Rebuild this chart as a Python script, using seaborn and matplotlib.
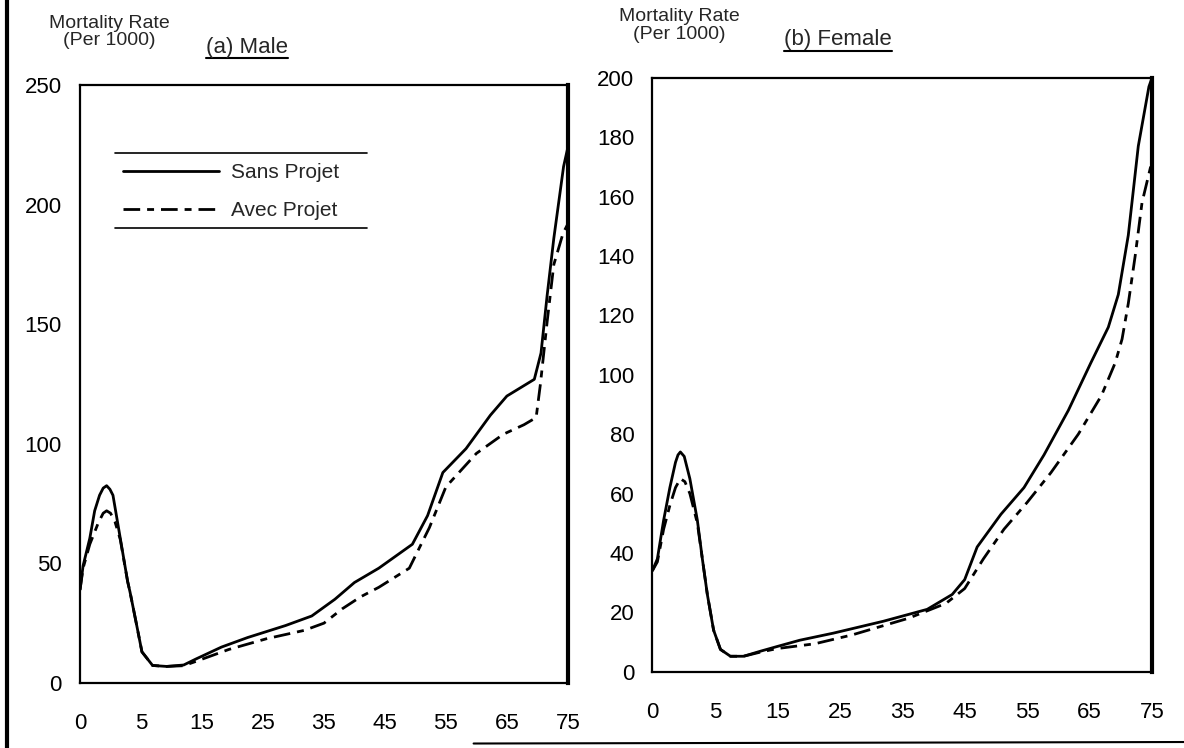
import numpy as np
import pandas as pd
import matplotlib
matplotlib.use('Agg')
import matplotlib.pyplot as plt
from matplotlib.lines import Line2D
import seaborn as sns

# x axis: age groups shown at even spacing
age_ticks = [0, 5, 15, 25, 35, 45, 55, 65, 75]
tick_labels = [str(a) for a in age_ticks]

# Male (per 1000)
male_sans_age = [0, 0.25, 0.8, 1.2, 1.6, 1.9, 2.18, 2.45, 2.7, 3.3, 3.9, 4.1, 4.65, 5.15, 6.9, 9.2,
                 12, 14, 18.2, 22.5, 28.7, 33, 36.8, 40, 44, 49.5, 52, 54.5, 58.3, 62.3, 65,
                 69.5, 70.6, 71.6, 72.7, 74.3, 75]
male_sans = [39, 49, 60.5, 72, 78.5, 81.5, 82.5, 81, 78.5, 60.5, 42.5, 38, 24, 13, 7.3, 6.9,
             7.5, 10, 15, 19, 24, 28, 35, 42, 48, 58, 70, 88, 98, 112, 120,
             127, 138, 162, 186, 216, 224]
male_avec_age = [0, 0.25, 0.8, 1.5, 1.9, 2.18, 2.5, 2.86, 3.3, 3.9, 4.1, 4.65, 5.15, 6.9, 9.2,
                 12, 14, 19.4, 25.6, 31.8, 35, 38, 41, 44, 49, 52.3, 55, 60, 64.4, 67.8,
                 69.8, 70.5, 71.6, 72.7, 74.2, 75]
male_avec = [39, 48, 58, 67, 71, 72, 71, 67.5, 60, 42.5, 38, 24, 13, 7.3, 6.9,
             7.2, 9, 14, 18.5, 22, 25, 31, 36, 40, 48, 65, 82, 96, 104, 108,
             111, 125, 151, 175, 188, 192]

# Female (per 1000)
female_sans_age = [0, 0.4, 0.9, 1.4, 1.85, 2.05, 2.24, 2.55, 3.0, 3.6, 4.0, 4.4, 4.9, 5.9, 7.5,
                   9.6, 12.3, 15, 18.6, 24, 32, 39, 43, 45, 47, 50.8, 54.5, 57.7, 61.6, 65.2,
                   68, 69.6, 71.2, 72.8, 74.5, 75]
female_sans = [34, 38, 51, 62, 70.5, 73, 74, 72.5, 65, 51, 38, 26, 14, 7.5, 5.2,
               5.2, 6.9, 8.5, 10.6, 13, 17, 21, 26, 31, 42, 53, 62, 73, 88, 104,
               116, 127, 147, 177, 197, 200]
female_avec_age = [0, 0.4, 0.9, 1.4, 1.85, 2.24, 2.6, 3.0, 3.6, 4.0, 4.4, 4.9, 5.9, 7.5, 9.6,
                   12.3, 15, 21, 27, 36, 42, 45, 48, 51.3, 55, 58.8, 63.2, 66.9, 69.1, 70.2,
                   71.2, 72.3, 73.4, 75]
female_avec = [34, 37, 48, 56, 62, 65, 64, 60, 50, 38, 26, 14, 7.5, 5.2, 5.2,
               6.6, 7.8, 9.4, 12.4, 18, 23, 28, 38, 48, 57, 67, 80, 93, 104, 112,
               124, 140, 158, 172]

male_yticks = [0, 50, 100, 150, 200, 250]
female_yticks = [0, 20, 40, 60, 80, 100, 120, 140, 160, 180, 200]

sns.set_style('white')
plt.rcParams['font.family'] = ['Liberation Sans', 'DejaVu Sans']

pos = np.arange(len(age_ticks))
fwd = lambda a: np.interp(a, age_ticks, pos)
inv = lambda p: np.interp(p, pos, age_ticks)

fig = plt.figure(figsize=(11.84, 7.48), dpi=100)
ax1 = fig.add_axes([0.0676, 0.087, 0.412, 0.799])
ax2 = fig.add_axes([0.551, 0.102, 0.422, 0.794])

solid_kw = dict(color='black', lw=2.0)
dash_kw = dict(color='black', lw=2.0, linestyle=(0, (6, 2.5, 2.5, 2.5)))

sns.lineplot(x=male_sans_age, y=male_sans, ax=ax1, label='Sans Projet', **solid_kw)
sns.lineplot(x=male_avec_age, y=male_avec, ax=ax1, label='Avec Projet', **dash_kw)
sns.lineplot(x=female_sans_age, y=female_sans, ax=ax2, legend=False, **solid_kw)
sns.lineplot(x=female_avec_age, y=female_avec, ax=ax2, legend=False, **dash_kw)

for ax, yt, top in [(ax1, male_yticks, 250), (ax2, female_yticks, 200)]:
    ax.set_xscale('function', functions=(fwd, inv))
    ax.set_xlim(0, 75)
    ax.set_ylim(0, top)
    ax.set_xticks(age_ticks)
    ax.set_xticklabels(tick_labels)
    ax.xaxis.set_minor_locator(matplotlib.ticker.NullLocator())
    ax.set_yticks(yt)
    ax.tick_params(axis='both', length=0, labelsize=16, colors='black')
    ax.tick_params(axis='x', pad=22)
    ax.tick_params(axis='y', pad=13)
    ax.set_xlabel('')
    ax.set_ylabel('')
    for s in ax.spines.values():
        s.set_color('black')
        s.set_linewidth(1.6)
    ax.spines['right'].set_linewidth(3.0)

# axis captions and panel titles
fig.text(0.092, 0.957, 'Mortality Rate\n(Per 1000)', ha='center', va='center',
         fontsize=14, linespacing=1.05)
fig.text(0.574, 0.966, 'Mortality Rate\n(Per 1000)', ha='center', va='center',
         fontsize=14, linespacing=1.05)
t1 = fig.text(0.209, 0.937, '(a) Male', ha='center', va='center', fontsize=16)
t2 = fig.text(0.708, 0.947, '(b) Female', ha='center', va='center', fontsize=16)

leg = ax1.legend(loc='center left', bbox_to_anchor=(0.088, 0.822), frameon=False,
                 handlelength=4.6, fontsize=15, handletextpad=0.6, labelspacing=0.9,
                 borderpad=0, borderaxespad=0)

# rules above and below the legend
for yy in (0.886, 0.761):
    ax1.plot([0.072, 0.588], [yy, yy], transform=ax1.transAxes, color='black', lw=1.2)

fig.canvas.draw()

# underline the panel titles
for t in (t1, t2):
    tb = t.get_window_extent().transformed(fig.transFigure.inverted())
    fig.add_artist(Line2D([tb.x0, tb.x1], [tb.y0 - 0.001, tb.y0 - 0.001],
                          transform=fig.transFigure, color='black', lw=1.5))

# edges of the scanned page
fig.add_artist(Line2D([0.006, 0.006], [0, 1], transform=fig.transFigure, color='black', lw=3))
fig.add_artist(Line2D([0.40, 1.0], [0.006, 0.008], transform=fig.transFigure, color='black', lw=1.5))

fig.savefig('out.png', dpi=100, facecolor='white')
